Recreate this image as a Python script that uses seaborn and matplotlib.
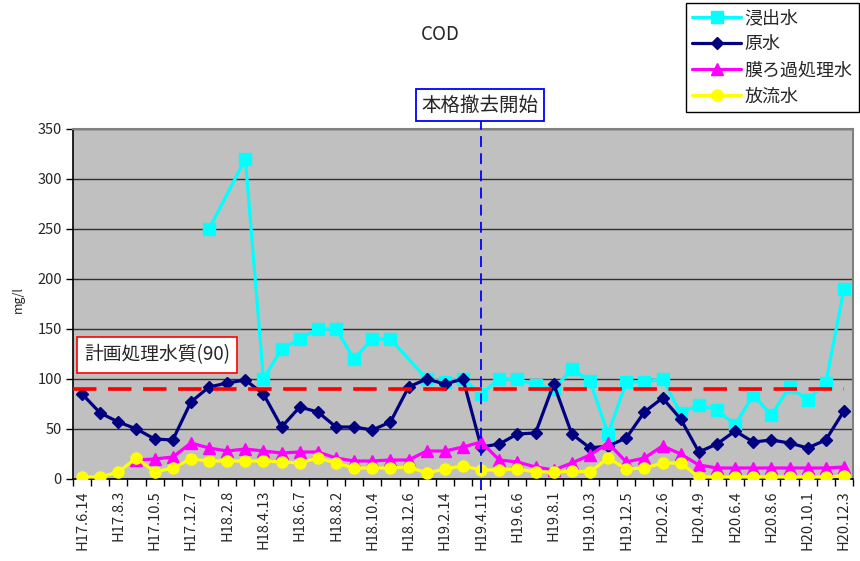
import numpy as np
import pandas as pd
import matplotlib
matplotlib.use("Agg")
import matplotlib.pyplot as plt
import seaborn as sns

nan = np.nan

# sampling dates shown on the axis (every other sample is labelled)
date_labels = ["H17.6.14", "H17.8.3", "H17.10.5", "H17.12.7", "H18.2.8", "H18.4.13",
               "H18.6.7", "H18.8.2", "H18.10.4", "H18.12.6", "H19.2.14", "H19.4.11",
               "H19.6.6", "H19.8.1", "H19.10.3", "H19.12.5", "H20.2.6", "H20.4.9",
               "H20.6.4", "H20.8.6", "H20.10.1", "H20.12.3"]

# COD (mg/l) per sample, 43 samples
leachate = [nan, nan, nan, nan, nan, nan, nan, 250, nan, 320,
            100, 130, 140, 150, 150, 120, 140, 140, nan, 100,
            97, 100, 85, 100, 100, 94, 90, 110, 98, 45,
            97, 97, 100, 66, 74, 69, 54, 84, 64, 92,
            79, 96, 190]
raw_water = [85, 66, 57, 50, 40, 39, 77, 92, 96, 99,
             85, 52, 72, 67, 52, 52, 49, 57, 92, 100,
             95, 100, 32, 35, 45, 46, 95, 45, 31, 33,
             41, 67, 81, 60, 27, 35, 48, 37, 39, 36,
             31, 39, 68]
membrane = [nan, nan, nan, 19, 20, 22, 36, 31, 28, 30,
            28, 26, 27, 27, 21, 18, 18, 19, 19, 28,
            28, 32, 37, 19, 17, 12, 9, 16, 24, 36,
            17, 21, 33, 25, 14, 11, 11, 11, 11, 11,
            11, 11, 12]
effluent = [2, 2, 7, 21, 7, 11, 20, 18, 18, 18,
            18, 17, 16, 21, 16, 11, 11, 11, 12, 6,
            10, 13, 9, 9, 10, 7, 7, 8, 7, 21,
            10, 11, 16, 16, 2, 2, 2, 2, 2, 2,
            2, 2, 3]

series_names = ["浸出水", "原水", "膜ろ過処理水", "放流水"]
series_values = [leachate, raw_water, membrane, effluent]

PLAN_LEVEL = 90
REMOVAL_START_DATE = "H19.4.11"

colors = ["#00FFFF", "#000080", "#FF00FF", "#FFFF00"]
markers = ["s", "D", "^", "o"]
marker_sizes = [8, 6.5, 8.5, 8]

n_samples = len(raw_water)
frames = []
for name, vals in zip(series_names, series_values):
    frames.append(pd.DataFrame({"sample": np.arange(n_samples), "COD": vals, "series": name}))
df = pd.concat(frames).dropna()

sns.set_style("white", {"axes.facecolor": "#C0C0C0"})
plt.rcParams["font.family"] = ["Noto Sans CJK JP", "DejaVu Sans"]

fig = plt.figure(figsize=(8.6, 5.61), dpi=100)
ax = fig.add_axes([73 / 860, 1 - 479 / 561, 780 / 860, 350 / 561])

for name, c, m, ms in zip(series_names, colors, markers, marker_sizes):
    sns.lineplot(data=df[df["series"] == name], x="sample", y="COD", color=c,
                 marker=m, markersize=ms, markeredgecolor=c, markeredgewidth=1,
                 linewidth=2.3, label=name, ax=ax, zorder=3)

handles, labels = ax.get_legend_handles_labels()
ax.get_legend().remove()

ax.set_xlim(-0.5, n_samples - 0.5)
ax.set_ylim(0, 350)
ax.set_xlabel("")
ax.set_ylabel("")

# y axis
ax.set_yticks(np.arange(0, 351, 50))
ax.tick_params(axis="y", direction="out", length=5, width=1, color="black",
               labelsize=10.5, pad=3, left=True)
ax.yaxis.grid(True, color="#303030", linewidth=1)
ax.xaxis.grid(False)
ax.set_axisbelow(True)

# x axis: labels on every other sample, tick marks between samples
label_pos = np.arange(0, n_samples, 2)
ax.set_xticks(label_pos)
ax.set_xticklabels(date_labels, rotation=90, fontsize=10.5)
ax.set_xticks(np.arange(-0.5, n_samples, 1), minor=True)
ax.tick_params(axis="x", which="major", length=0, pad=8)
ax.tick_params(axis="x", which="minor", direction="out", length=5, width=1,
               color="black", bottom=True)

for side in ["left", "bottom"]:
    ax.spines[side].set_color("black")
    ax.spines[side].set_linewidth(1.2)
for side in ["top", "right"]:
    ax.spines[side].set_color("#808080")
    ax.spines[side].set_linewidth(1.5)

# planned treated-water quality line
ax.hlines(PLAN_LEVEL, -0.5, n_samples - 1, colors="#FF0000", linewidth=2.6,
          linestyles=(0, (6.5, 3.2)), zorder=5)
ax.text(0.014, 124, "計画処理水質(90)", transform=ax.get_yaxis_transform(),
        ha="left", va="center", fontsize=13.5, zorder=6,
        bbox=dict(boxstyle="square,pad=0.38", facecolor="white",
                  edgecolor="#FF0000", linewidth=1.2))

# start of full-scale removal
removal_idx = date_labels.index(REMOVAL_START_DATE) * 2
ax.axvline(removal_idx, ymin=-0.032, ymax=1.026, color="#0000FF", linewidth=1.3,
           linestyle=(0, (6, 3.5)), clip_on=False, zorder=5)
fig.text(480 / 860, 1 - 105 / 561, "本格撤去開始", ha="center", va="center",
         fontsize=14,
         bbox=dict(boxstyle="square,pad=0.3", facecolor="white",
                   edgecolor="#0000FF", linewidth=1.3))

fig.text(440 / 860, 1 - 35 / 561, "COD", ha="center", va="center", fontsize=13.5)
fig.text(18 / 860, 1 - 300 / 561, "mg/l", ha="center", va="center",
         rotation=90, fontsize=9)

leg = fig.legend(handles, labels, loc="upper right",
                 bbox_to_anchor=(859 / 860, 1 - 3 / 561), fontsize=13,
                 frameon=True, fancybox=False, framealpha=1, edgecolor="black",
                 facecolor="white",
                 handlelength=2.7, handletextpad=0.2, labelspacing=0.45,
                 borderpad=0.35, borderaxespad=0)
leg.get_frame().set_linewidth(1)

fig.savefig("out.png", dpi=100)
